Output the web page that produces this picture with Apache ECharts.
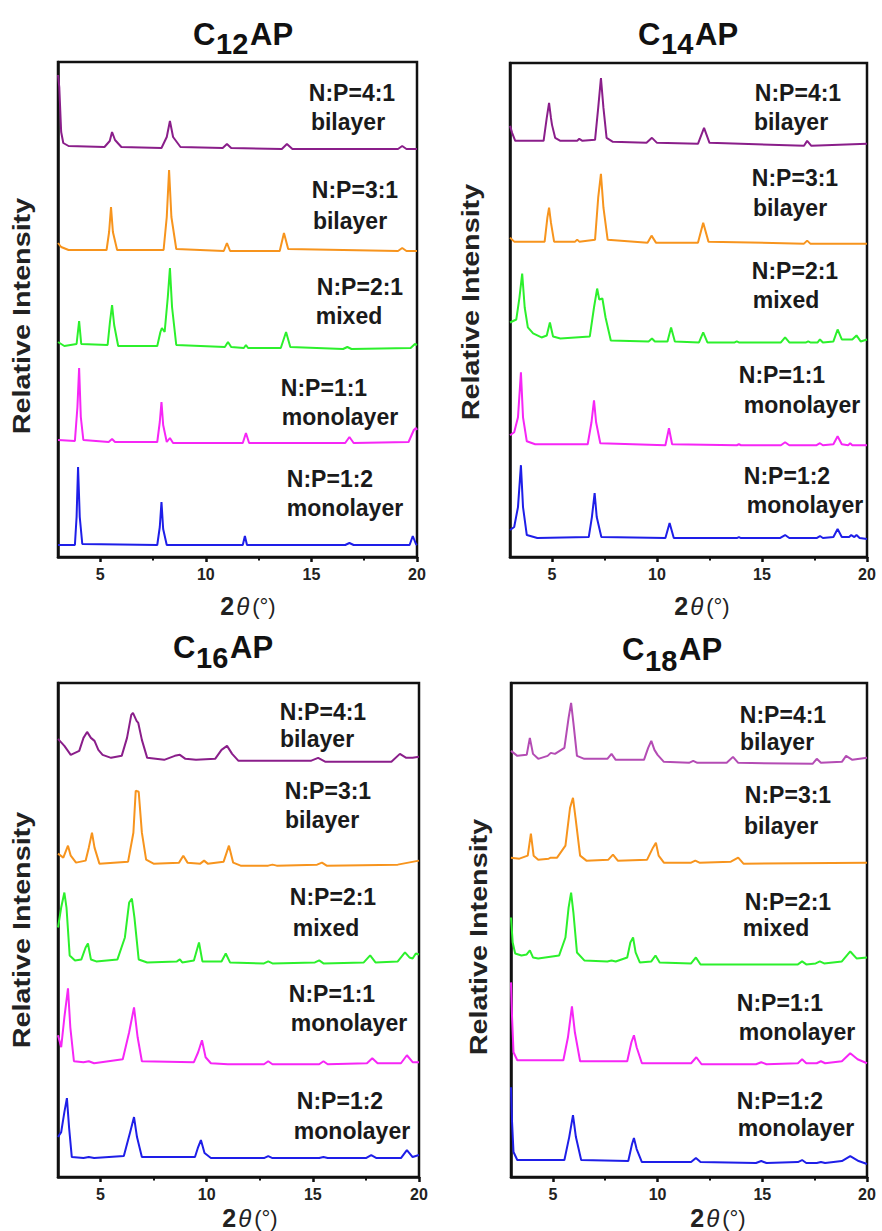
<!DOCTYPE html>
<html><head><meta charset="utf-8">
<script src="https://cdn.jsdelivr.net/npm/echarts@6/dist/echarts.min.js"></script>
<style>html,body{margin:0;padding:0;background:#fff}#c{width:882px;height:1231px}</style>
</head><body><div id="c"></div>
<script>
// ---------------- data ----------------
const majorTicks = [5, 10, 15, 20];
const minorTicks = [7.5, 12.5, 17.5];
const ratioLabels = ['N:P=4:1', 'N:P=3:1', 'N:P=2:1', 'N:P=1:1', 'N:P=1:2'];
const phaseLabels = ['bilayer', 'bilayer', 'mixed', 'monolayer', 'monolayer'];
const titleMain = 'C';
const titleSubs = ['12', '14', '16', '18'];
const titleTail = 'AP';
const yName = 'Relative Intensity';

// C12AP
const c12_41 = [[3.0,482],[3.06,470],[3.15,425],[3.25,414],[3.5,411],[5.2,410],[5.45,416],[5.56,425],[5.7,417],[6.0,410],[7.9,409],[8.15,420],[8.3,436],[8.45,420],[8.8,410],[10.8,409],[11.0,413],[11.2,409],[13.6,408],[13.84,413],[14.1,408],[19.1,408],[19.3,411],[19.5,408],[20,408]];
const c12_31 = [[3.0,314],[3.15,310],[3.5,307],[5.3,307],[5.42,325],[5.51,350],[5.6,325],[5.8,307],[8.0,307],[8.15,340],[8.26,387],[8.37,340],[8.6,308],[10.85,306],[11.0,314],[11.15,306],[13.5,306],[13.7,324],[13.9,308],[19.1,306],[19.3,309],[19.5,306],[20,306]];
const c12_21 = [[3.0,215],[3.3,211],[3.88,213],[4.0,236],[4.1,213],[5.35,212],[5.46,235],[5.56,252],[5.66,232],[5.85,211],[7.7,211],[7.85,225],[7.92,229],[8.05,225],[8.2,260],[8.3,289],[8.4,250],[8.6,212],[10.9,210],[11.05,215],[11.2,210],[11.8,209],[11.9,212],[12.0,209],[13.55,209],[13.8,225],[14.0,210],[16.5,208],[16.7,210],[16.9,208],[19.7,209],[19.9,213],[20,212]];
const c12_11 = [[3.0,117],[3.8,116],[3.92,150],[4.0,189],[4.08,140],[4.2,117],[5.4,115],[5.56,118],[5.7,115],[7.7,115],[7.82,135],[7.9,155],[7.98,132],[8.15,115],[8.3,119],[8.45,114],[11.75,114],[11.9,124],[12.05,114],[16.6,114],[16.8,120],[17.0,114],[19.6,115],[19.85,127],[19.95,129],[20,127]];
const c12_12 = [[3.0,12],[3.8,12],[3.88,40],[3.95,90],[4.03,40],[4.15,13],[7.7,12],[7.82,30],[7.9,55],[7.98,28],[8.15,12],[11.75,12],[11.85,21],[11.95,12],[16.6,12],[16.8,14],[17.0,12],[19.65,12],[19.8,21],[19.95,13],[20,12]];

// C14AP
const c14_41 = [[3.0,432],[3.1,425],[3.25,417],[4.6,417],[4.75,440],[4.86,455],[4.95,440],[5.0,433],[5.15,420],[5.4,417],[6.2,417],[6.3,419],[6.45,417],[7.05,418],[7.2,450],[7.33,480],[7.45,450],[7.6,420],[7.9,416],[9.5,415],[9.76,420],[10.0,415],[11.95,414],[12.24,430],[12.5,415],[17.0,412],[17.15,417],[17.35,412],[20,414]];
const c14_31 = [[3.0,320],[3.2,316],[4.65,316],[4.78,340],[4.86,350],[4.95,335],[5.1,316],[6.1,316],[6.2,318],[6.3,316],[7.05,318],[7.2,360],[7.33,384],[7.45,350],[7.65,318],[9.55,315],[9.74,322],[9.95,315],[11.95,315],[12.2,335],[12.45,316],[17.0,314],[17.15,317],[17.3,314],[20,314]];
const c14_21 = [[3.0,235],[3.3,238],[3.45,260],[3.58,284],[3.7,250],[3.85,230],[4.1,224],[4.5,220],[4.75,222],[4.9,235],[5.05,221],[5.4,219],[6.8,221],[7.0,250],[7.15,269],[7.25,258],[7.4,259],[7.55,240],[7.8,217],[9.6,216],[9.76,219],[9.9,216],[10.5,216],[10.67,230],[10.85,216],[12.0,215],[12.2,225],[12.4,215],[13.7,215],[13.8,216],[13.9,215],[15.9,215],[16.1,220],[16.3,215],[17.1,215],[17.2,216],[17.3,215],[17.65,215],[17.76,218],[17.9,215],[18.4,216],[18.6,228],[18.8,218],[19.3,218],[19.5,222],[19.7,216],[20,218]];
const c14_11 = [[3.0,122],[3.2,125],[3.38,140],[3.52,185],[3.62,140],[3.8,116],[4.2,113],[6.7,113],[6.88,135],[7.0,157],[7.1,135],[7.3,114],[10.4,112],[10.57,129],[10.72,113],[13.8,112],[13.9,113],[14.0,112],[15.9,112],[16.1,115],[16.3,112],[17.6,112],[17.76,114],[17.9,112],[18.4,113],[18.6,121],[18.8,113],[19.1,112],[19.2,114],[19.3,112],[20,112]];
const c14_12 = [[3.0,27],[3.2,30],[3.38,50],[3.52,92],[3.62,50],[3.8,22],[4.3,19],[6.75,20],[6.9,40],[7.03,64],[7.13,40],[7.35,20],[10.4,19],[10.6,34],[10.8,19],[13.8,19],[13.9,20],[14.0,19],[15.85,19],[16.1,22],[16.3,19],[17.6,19],[17.76,21],[17.9,19],[18.4,20],[18.6,28],[18.8,20],[19.15,20],[19.25,22],[19.4,20],[19.5,22],[19.65,19],[20,18]];

// C16AP
const c16_41 = [[3.0,439],[3.3,432],[3.6,423],[4.0,427],[4.2,440],[4.37,446],[4.55,440],[4.72,437],[4.9,428],[5.1,423],[5.5,420],[6.0,422],[6.25,440],[6.45,463],[6.53,465],[6.7,457],[6.78,455],[6.95,438],[7.2,420],[8.0,418],[8.5,422],[8.74,423],[9.0,419],[9.5,418],[10.4,419],[10.7,428],[10.96,432],[11.2,424],[11.5,417],[14.9,417],[15.25,420],[15.6,416],[18.7,416],[19.1,424],[19.4,420],[19.7,420],[20,421]];
const c16_31 = [[3.0,324],[3.25,320],[3.47,332],[3.6,322],[3.85,315],[4.3,317],[4.45,330],[4.6,345],[4.72,330],[4.95,314],[6.3,316],[6.55,345],[6.66,387],[6.8,386],[6.95,345],[7.15,318],[7.5,314],[8.7,315],[8.9,322],[9.1,315],[9.7,314],[9.88,317],[10.05,314],[10.8,316],[11.05,332],[11.25,315],[11.6,312],[12.9,312],[13.1,313],[13.3,312],[15.2,313],[15.43,315],[15.65,312],[19.0,313],[20,317]];
const c16_21 = [[3.0,250],[3.15,270],[3.3,285],[3.4,270],[3.55,222],[3.8,217],[4.1,218],[4.3,230],[4.41,234],[4.55,218],[4.8,216],[5.8,218],[6.15,240],[6.35,275],[6.48,279],[6.6,260],[6.8,218],[7.2,215],[8.6,216],[8.74,218],[8.85,215],[9.4,217],[9.64,235],[9.8,216],[10.7,216],[10.9,224],[11.1,215],[12.7,214],[12.9,216],[13.1,214],[15.1,215],[15.3,217],[15.5,214],[17.4,215],[17.7,222],[17.95,215],[19.0,216],[19.34,225],[19.55,220],[19.7,219],[19.85,224],[20,223]];
const c16_11 = [[3.0,142],[3.15,130],[3.3,160],[3.47,189],[3.58,150],[3.75,116],[4.2,115],[4.45,116],[4.7,114],[6.05,118],[6.35,145],[6.58,170],[6.75,140],[6.95,116],[9.4,115],[9.6,125],[9.78,137],[9.95,120],[10.2,114],[11.0,113],[12.7,113],[12.9,116],[13.1,113],[15.3,113],[15.5,116],[15.7,113],[17.55,114],[17.8,119],[18.05,114],[19.15,114],[19.43,122],[19.7,115],[20,115]];
const c16_12 = [[3.0,40],[3.15,45],[3.3,65],[3.42,79],[3.52,50],[3.65,20],[4.2,19],[4.45,20],[4.7,19],[6.1,21],[6.4,45],[6.58,60],[6.72,40],[6.95,20],[9.45,20],[9.6,30],[9.73,37],[9.9,24],[10.2,19],[12.7,19],[12.9,21],[13.1,19],[15.3,19],[15.5,20],[15.7,19],[17.5,19],[17.75,22],[18.0,19],[19.15,19],[19.43,27],[19.7,20],[20,22]];

// C18AP
const c18_41 = [[3.0,427],[3.3,422],[3.75,423],[3.9,440],[4.05,424],[4.3,419],[4.75,422],[4.9,425],[5.1,424],[5.55,430],[5.75,460],[5.87,475],[5.98,455],[6.15,422],[6.5,419],[7.6,419],[7.8,424],[8.0,418],[9.35,418],[9.55,430],[9.7,437],[9.85,428],[10.0,423],[10.3,416],[11.5,415],[11.7,417],[11.9,415],[13.3,415],[13.6,421],[13.85,415],[17.4,414],[17.6,419],[17.8,415],[18.8,416],[19.0,422],[19.3,418],[20,420]];
const c18_31 = [[3.0,320],[3.4,319],[3.8,322],[3.95,344],[4.08,322],[4.3,318],[4.8,319],[4.9,320],[5.2,320],[5.6,332],[5.82,370],[5.96,380],[6.08,360],[6.3,322],[6.6,317],[7.65,318],[7.87,323],[8.1,317],[9.5,318],[9.78,330],[9.92,335],[10.05,322],[10.3,315],[11.6,315],[11.8,317],[12.0,315],[13.5,316],[13.85,320],[14.1,314],[20,315]];
const c18_21 = [[3.0,260],[3.08,235],[3.2,224],[3.5,222],[3.75,223],[3.9,227],[4.05,220],[4.3,219],[5.3,222],[5.6,240],[5.75,270],[5.87,285],[5.98,265],[6.15,225],[6.5,217],[7.6,216],[7.8,217],[8.0,216],[8.55,220],[8.7,235],[8.83,240],[8.95,225],[9.15,215],[9.7,216],[9.9,222],[10.1,215],[11.6,214],[11.83,220],[12.05,213],[16.7,213],[16.9,216],[17.1,213],[17.55,214],[17.75,216],[17.95,214],[18.8,216],[19.2,226],[19.5,219],[20,220]];
const c18_11 = [[3.0,195],[3.05,160],[3.12,125],[3.3,117],[5.5,117],[5.72,140],[5.91,171],[6.05,145],[6.3,116],[8.55,116],[8.75,135],[8.87,142],[9.0,130],[9.25,114],[11.6,114],[11.85,120],[12.1,113],[14.7,113],[14.95,115],[15.2,113],[16.7,114],[16.9,118],[17.1,114],[17.6,114],[17.8,116],[18.0,114],[18.8,116],[19.2,124],[19.55,118],[20,114]];
const c18_12 = [[3.0,90],[3.05,55],[3.12,25],[3.3,17],[5.55,17],[5.78,40],[5.96,62],[6.1,40],[6.35,17],[8.6,16],[8.78,33],[8.87,39],[9.0,28],[9.25,15],[11.6,15],[11.83,19],[12.05,15],[14.7,14],[14.95,16],[15.2,14],[16.7,15],[16.9,17],[17.1,14],[17.6,14],[17.8,15],[18.0,14],[18.8,16],[19.2,21],[19.6,16],[20,13]];

const panelSeries = [
  [c12_41, c12_31, c12_21, c12_11, c12_12],
  [c14_41, c14_31, c14_21, c14_11, c14_12],
  [c16_41, c16_31, c16_21, c16_11, c16_12],
  [c18_41, c18_31, c18_21, c18_11, c18_12]
];

// ---------------- layout & style ----------------
const FONT = '"Liberation Sans", Arial, sans-serif';
const INK = '#111';
const grids = [
  {left: 58, top: 62, width: 359, height: 495},
  {left: 510, top: 63, width: 357, height: 494},
  {left: 58, top: 683, width: 361, height: 494},
  {left: 511, top: 683, width: 356, height: 494}
];
const traceColors = [
  ['#8a1e8a', '#f7941d', '#2cf02c', '#f626f6', '#1e1ee8'],
  ['#8a1e8a', '#f7941d', '#2cf02c', '#f626f6', '#1e1ee8'],
  ['#8a1e8a', '#f7941d', '#2cf02c', '#f626f6', '#1e1ee8'],
  ['#b44cb4', '#f7941d', '#2cf02c', '#f626f6', '#1e1ee8']
];
// title pieces: [C left, C cy, sub left, sub cy, AP left]
const titlePos = [
  [193, 34, 216, 44, 250],
  [638, 34, 661, 44, 695],
  [173, 647, 196, 658, 230],
  [622, 649, 645, 661, 679]
];
const yNamePos = [[22, 316], [471, 302], [22, 930], [479, 937]];
const xNamePos = [[248, 606], [702, 606], [250, 1218], [718, 1218]];
// [ratio cx, ratio cy, phase cx, phase cy] per trace
const notePos = [
  [[352,93,348,122],[355,190,350,221],[360,287,349,316],[324,388,340,417],[330,479,345,508]],
  [[798,93,791,122],[795,178,790,208],[795,271,786,300],[782,375,802,405],[787,476,805,505]],
  [[323,712,317,739],[328,791,322,820],[333,897,326,928],[332,994,349,1023],[340,1101,352,1131]],
  [[783,715,777,742],[788,795,781,826],[788,902,776,928],[780,1003,797,1032],[780,1101,796,1128]]
];

const option = {
  animation: false,
  backgroundColor: '#fff',
  grid: grids.map(g => Object.assign({show: true, borderColor: INK, borderWidth: 2.5, backgroundColor: 'transparent'}, g)),
  xAxis: [],
  yAxis: [],
  series: [],
  graphic: []
};

grids.forEach((g, p) => {
  option.xAxis.push({
    gridIndex: p, type: 'value', min: 3, max: 20, position: 'bottom',
    axisLine: {show: true, onZero: false, lineStyle: {color: INK, width: 2.5}},
    axisTick: {show: true, customValues: majorTicks, length: 5, lineStyle: {color: INK, width: 2.5}},
    axisLabel: {show: true, customValues: majorTicks, fontFamily: FONT, fontWeight: 'bold', fontSize: 16, color: '#222', margin: 9, showMinLabel: true, showMaxLabel: true},
    splitLine: {show: false}
  });
  option.xAxis.push({
    gridIndex: p, type: 'value', min: 3, max: 20, position: 'bottom',
    axisLine: {show: false, onZero: false},
    axisTick: {show: true, customValues: minorTicks, length: 3.5, lineStyle: {color: INK, width: 2}},
    axisLabel: {show: false},
    splitLine: {show: false}
  });
  option.yAxis.push({
    gridIndex: p, type: 'value', min: 0, max: 495,
    axisLine: {show: true, onZero: false, lineStyle: {color: INK, width: 2.5}},
    axisTick: {show: false}, axisLabel: {show: false}, splitLine: {show: false}
  });
  panelSeries[p].forEach((d, i) => {
    option.series.push({
      type: 'line', xAxisIndex: 2 * p, yAxisIndex: p, data: d,
      showSymbol: false, symbol: 'none', silent: true,
      lineStyle: {color: traceColors[p][i], width: 2}, z: 3
    });
  });
  // title
  const tp = titlePos[p];
  option.graphic.push(
    {type: 'text', silent: true, style: {text: titleMain, x: tp[0], y: tp[1], font: 'bold 31px ' + FONT, fill: INK, align: 'left', verticalAlign: 'middle'}},
    {type: 'text', silent: true, style: {text: titleSubs[p], x: tp[2], y: tp[3], font: 'bold 29px ' + FONT, fill: INK, align: 'left', verticalAlign: 'middle'}},
    {type: 'text', silent: true, style: {text: titleTail, x: tp[4], y: tp[1], font: 'bold 31px ' + FONT, fill: INK, align: 'left', verticalAlign: 'middle'}}
  );
  // y name (stretched along its length like the reference)
  option.graphic.push({
    type: 'text', silent: true, x: yNamePos[p][0], y: yNamePos[p][1], rotation: Math.PI / 2, scaleX: 1.25,
    style: {text: yName, x: 0, y: 0, font: 'bold 23px ' + FONT, fill: '#222', align: 'center', verticalAlign: 'middle'}
  });
  // x name
  option.graphic.push({
    type: 'text', silent: true,
    style: {
      text: '{a|2}{b|θ}{c|(°)}', x: xNamePos[p][0], y: xNamePos[p][1], align: 'center', verticalAlign: 'middle',
      rich: {
        a: {font: 'bold 25px ' + FONT, fill: '#222'},
        b: {font: 'italic 24px ' + FONT, fill: '#222', padding: [0, 3, 0, 2]},
        c: {font: '22px ' + FONT, fill: '#222'}
      }
    }
  });
  // notes
  notePos[p].forEach((n, i) => {
    option.graphic.push(
      {type: 'text', silent: true, z: 10, style: {text: ratioLabels[i], x: n[0], y: n[1], font: 'bold 23px ' + FONT, fill: '#1a1a1a', align: 'center', verticalAlign: 'middle'}},
      {type: 'text', silent: true, z: 10, style: {text: phaseLabels[i], x: n[2], y: n[3], font: 'bold 23px ' + FONT, fill: '#1a1a1a', align: 'center', verticalAlign: 'middle'}}
    );
  });
});

const chart = echarts.init(document.getElementById('c'), null, {renderer: 'svg', width: 882, height: 1231});
chart.setOption(option);
</script>
</body></html>
